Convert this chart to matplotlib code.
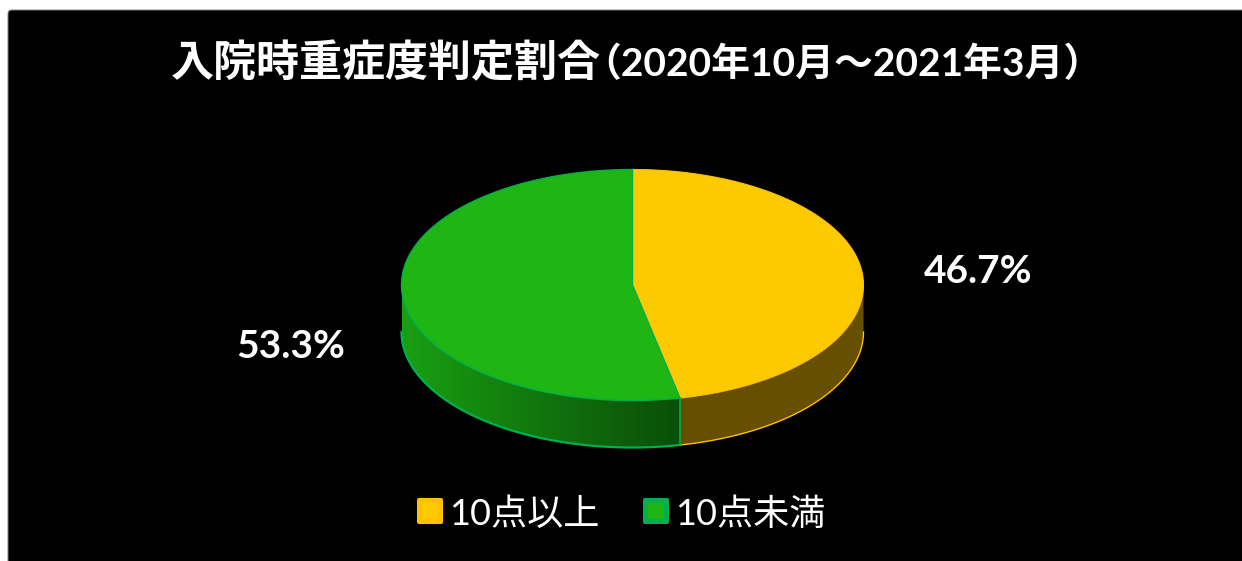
import numpy as np
import matplotlib
matplotlib.use("Agg")
import matplotlib.pyplot as plt
from matplotlib.colors import LinearSegmentedColormap
from matplotlib.patches import FancyBboxPatch, Polygon

plt.rcParams['font.family'] = ['Lato', 'Noto Sans CJK JP', 'DejaVu Sans']

title_head = "入院時重症度判定割合"
title_tail = "（2020年10月～2021年3月）"
categories = ["10点以上", "10点未満"]
values = [46.7, 53.3]
value_labels = ["46.7%", "53.3%"]

yellow = "#FDCA00"
yellow_edge = "#FFC000"
yellow_wall = "#665000"
green = "#1FB512"
green_edge = "#00B050"
green_key = "#1FB512"

W, H = 1242, 561
cx, cy = 632.5, 285
rx, ry = 231, 115.5
depth = 47


def arc(start, end, n=200):
    # angles are in degrees, clockwise from 12 o'clock
    t = np.radians(np.linspace(start, end, n))
    return cx + rx * np.sin(t), cy - ry * np.cos(t)


fig = plt.figure(figsize=(W / 100, H / 100), dpi=100, facecolor="white")
ax = fig.add_axes([0, 0, 1, 1])

ax.add_patch(FancyBboxPatch((12, 14), W, H, boxstyle="round,pad=4,rounding_size=4",
                            fc="black", ec="#808080", lw=0.7, zorder=0))

split = 360 * values[0] / sum(values)

# side wall, yellow part
x, y = arc(90, split)
ax.add_patch(Polygon(np.r_[np.c_[x, y], np.c_[x[::-1], y[::-1] + depth]], fc=yellow_wall, ec="none"))
ax.plot(x, y + depth, color=yellow_edge, lw=1.0)

# side wall, green part with a gradient getting darker to the front
x, y = arc(split, 270)
wall = Polygon(np.r_[np.c_[x, y], np.c_[x[::-1], y[::-1] + depth]], fc="none", ec="none")
ax.add_patch(wall)
grad = LinearSegmentedColormap.from_list("wall", ["#0A4F08", "#11750D", "#1A9F12"])
im = ax.imshow(np.linspace(0, 1, 256)[None, ::-1], cmap=grad, aspect="auto", zorder=1,
               extent=(x[-1], x[0], y.max() + depth, y.min()))
im.set_clip_path(wall)
ax.plot(x, y + depth, color=green_edge, lw=1.6)
ax.plot([x[0], x[0]], [y[0], y[0] + depth], color=green_edge, lw=1.2)

# top face
x, y = arc(0, split)
ax.add_patch(Polygon(np.r_[[[cx, cy]], np.c_[x, y]], fc=yellow, ec=yellow_edge, lw=0.8, joinstyle="round"))
x, y = arc(split, 360)
ax.add_patch(Polygon(np.r_[[[cx, cy]], np.c_[x, y]], fc=green, ec=green_edge, lw=1.0, joinstyle="round"))

ax.text(171, 63, title_head, color="white", fontsize=31, fontweight="bold", ha="left", va="center")
ax.text(1102, 63, title_tail, color="white", fontsize=28, fontweight="bold", ha="right", va="center")
ax.text(978, 271, value_labels[0], color="white", fontsize=28, fontweight="bold", ha="center", va="center")
ax.text(291, 346, value_labels[1], color="white", fontsize=28, fontweight="bold", ha="center", va="center")

# legend
for lx, tx, face, edge, label in [(417, 449, yellow, yellow_edge, categories[0]),
                                  (643, 675, green_key, green_edge, categories[1])]:
    ax.add_patch(FancyBboxPatch((lx + 2, 500), 22, 22, boxstyle="round,pad=2,rounding_size=2",
                                fc=edge, ec="none"))
    ax.add_patch(FancyBboxPatch((lx + 5, 503), 16, 16, boxstyle="round,pad=0", fc=face, ec="none"))
    ax.text(tx, 514, label, color="white", fontsize=26, ha="left", va="center")

ax.set_xlim(0, W)
ax.set_ylim(H, 0)
ax.axis("off")

fig.savefig("out.png", dpi=100, facecolor="white")
